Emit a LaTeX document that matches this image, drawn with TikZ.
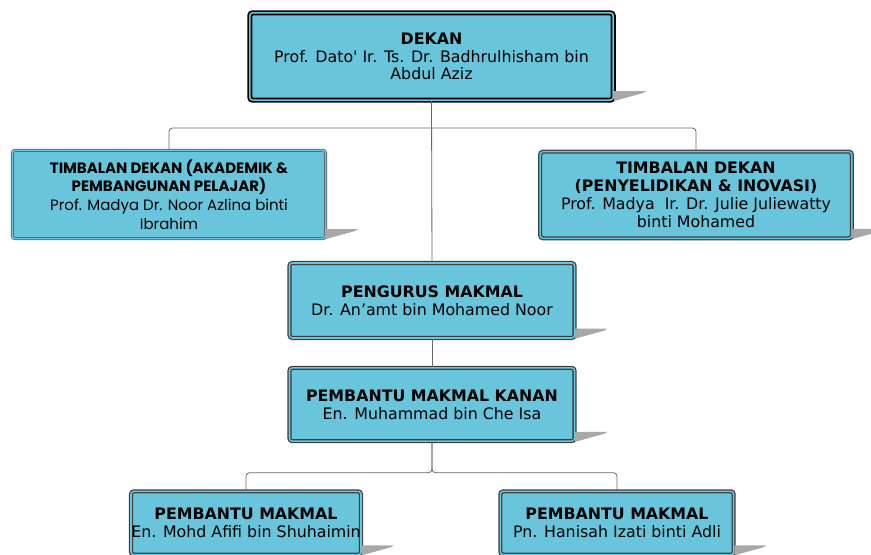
\documentclass[tikz,border=0pt]{standalone}
\usepackage{fontspec}
\setmainfont{DejaVu Sans}
\newfontfamily\gothic{Poppins}
\usetikzlibrary{calc}

\definecolor{boxblue}{RGB}{104,197,219}
\definecolor{edgegray}{RGB}{62,62,62}
\definecolor{shadegray}{RGB}{168,168,168}
\definecolor{linegray}{RGB}{105,105,105}

\tikzset{
  orgbox/.style={rectangle, rounded corners=2.5pt, fill=boxblue, draw=edgegray,
    double=boxblue, double distance=1.3pt, line width=1.1pt, inner sep=0pt,
    align=center, text=black, font=\fontsize{13.5}{15.2}\selectfont},
  deanbox/.style={orgbox, draw=black, line width=1.5pt, double distance=1.4pt},
  thinbox/.style={orgbox, draw=edgegray!85, line width=0.6pt, double distance=1.4pt,
    font=\gothic\fontsize{12.8}{16}\selectfont},
  conn/.style={draw=linegray, line width=0.7pt, rounded corners=3pt},
}
\newcommand{\dropshade}[1]{%
  \fill[shadegray] ($(#1.south east)+(0,-10)$) -- ++(32,0) -- ++(-3,2)
    -- (#1.south east) -- cycle;}

\begin{document}
\begin{tikzpicture}[x=0.03cm, y=-0.03cm]
  \path[use as bounding box, clip] (0,0) rectangle (871,554);

  % top level
  \node[deanbox, minimum width=10.9cm, minimum height=2.62cm] (dekan) at (431.5,56.5)
    {\textbf{DEKAN}\\Prof. Dato\textquotesingle{} Ir. Ts. Dr. Badhrulhisham bin\\Abdul Aziz};

  % deputies
  \node[thinbox, minimum width=9.4cm, minimum height=2.65cm] (tdl) at (169,194.5)
    {\textbf{TIMBALAN DEKAN (AKADEMIK \&}\\\textbf{PEMBANGUNAN PELAJAR)}\\Prof. Madya Dr. Noor Azlina binti\\Ibrahim};
  \node[orgbox, minimum width=9.35cm, minimum height=2.6cm] (tdr) at (696,195)
    {\textbf{TIMBALAN DEKAN}\\\textbf{(PENYELIDIKAN \& INOVASI)}\\Prof. Madya\ \ Ir. Dr. Julie Juliewatty\\binti Mohamed};

  % lab staff
  \node[orgbox, minimum width=8.55cm, minimum height=2.25cm] (pengurus) at (432,300.5)
    {\textbf{PENGURUS MAKMAL}\\Dr. An’amt bin Mohamed Noor};
  \node[orgbox, minimum width=8.55cm, minimum height=2.2cm] (kanan) at (432,404.5)
    {\textbf{PEMBANTU MAKMAL KANAN}\\En. Muhammad bin Che Isa};

  \node[orgbox, minimum width=6.9cm, minimum height=1.9cm] (pma) at (246,523)
    {\textbf{PEMBANTU MAKMAL}\\En. Mohd Afifi bin Shuhaimin};
  \node[orgbox, minimum width=7.0cm, minimum height=1.9cm] (pmb) at (617,523)
    {\textbf{PEMBANTU MAKMAL}\\Pn. Hanisah Izati binti Adli};

  % shadows
  \dropshade{dekan}
  \dropshade{tdl}
  \dropshade{tdr}
  \dropshade{pengurus}
  \dropshade{kanan}
  \dropshade{pma}
  \dropshade{pmb}

  % connectors
  \coordinate (fork) at (432,128);
  \draw[conn] (dekan.south) -- (pengurus.north);
  \draw[conn] (tdl.north) |- (fork) -| (tdr.north);
  \draw[conn] (pengurus.south) -- (kanan.north);
  \draw[conn] (kanan.south) |- ($(pma.north)+(0,-18)$) -- (pma.north);
  \draw[conn] (kanan.south) |- ($(pmb.north)+(0,-18)$) -- (pmb.north);
\end{tikzpicture}
\end{document}
